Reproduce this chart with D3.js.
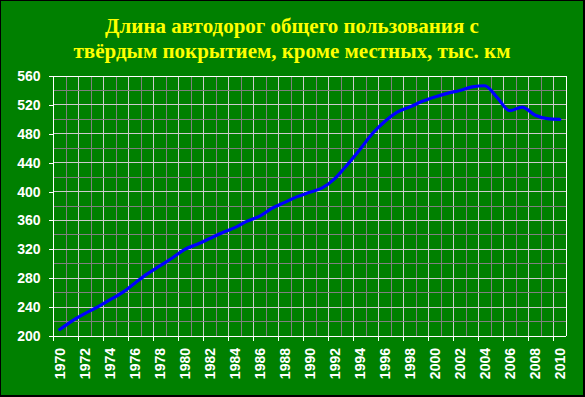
<!DOCTYPE html>
<html><head><meta charset="utf-8">
<script src="https://cdn.jsdelivr.net/npm/d3@7"></script>
<style>
html,body{margin:0;padding:0;background:#000;}
svg{display:block;}
</style></head>
<body>
<script>
const titleLines = ["Длина автодорог общего пользования с", "твёрдым покрытием, кроме местных, тыс. км"];
const years = d3.range(1970, 2011);
const values = [209,221,231,240,250,260,273,286,297,308,
  320,327,335,343,350,359,366,377,385,393,
  399,405,418,437,458,480,497,510,517,525,
  531,536,540,545,546.5,530,512,517,506,501,500];
const yTicks = [200,240,280,320,360,400,440,480,520,560];
const yMinor = [220,260,300,340,380,420,460,500,540];
const xTickLabels = years.filter(y => y % 2 === 0);

const W = 585, H = 397;
const svg = d3.select("body").append("svg").attr("width", W).attr("height", H);
svg.append("rect").attr("x",0).attr("y",0).attr("width",W).attr("height",H).attr("fill","#000");
svg.append("rect").attr("x",1).attr("y",1).attr("width",W-3).attr("height",H-3).attr("fill","#008000");

const L = 53.5, R = 566, T = 76, B = 336;
const x = d3.scaleBand().domain(years).range([L, R]).paddingInner(0).paddingOuter(0);
const y = d3.scaleLinear().domain([200, 560]).range([B, T]);

// title
svg.append("g").selectAll("text").data(titleLines).join("text")
  .attr("x", 292).attr("y", (d,i) => 33 + i*25)
  .attr("text-anchor","middle")
  .attr("fill","#ffff00")
  .style("font-family","'Liberation Serif','Times New Roman',serif")
  .style("font-weight","bold").style("font-size","21px")
  .text(d => d);

const grid = svg.append("g").attr("shape-rendering","crispEdges");
// vertical grid lines at category boundaries
const bounds = years.map(d => x(d)).concat([R]);
grid.selectAll("line.v").data(bounds.slice(1)).join("line")
  .attr("x1", d => d).attr("x2", d => d).attr("y1", T).attr("y2", B)
  .attr("stroke", (d,i) => ((i+1) % 2 === 0 ? "#cccccc" : "#808080")).attr("stroke-width",1);
// horizontal minor
grid.selectAll("line.hm").data(yMinor).join("line")
  .attr("x1", L).attr("x2", R).attr("y1", d => y(d)).attr("y2", d => y(d))
  .attr("stroke","#808080");
// horizontal major
grid.selectAll("line.hM").data(yTicks.slice(1)).join("line")
  .attr("x1", L).attr("x2", R).attr("y1", d => y(d)).attr("y2", d => y(d))
  .attr("stroke","#cccccc");
// border top/right
grid.append("line").attr("x1",L).attr("x2",R).attr("y1",T).attr("y2",T).attr("stroke","#fff");
grid.append("line").attr("x1",R).attr("x2",R).attr("y1",T).attr("y2",B).attr("stroke","#fff");

// y axis
const yAxis = svg.append("g").attr("transform",`translate(${L},0)`)
  .call(d3.axisLeft(y).tickValues(yTicks).tickSize(5).tickPadding(8).tickFormat(d3.format("d")));
yAxis.select(".domain").remove();
yAxis.selectAll(".tick line").attr("stroke","#fff").attr("shape-rendering","crispEdges");
yAxis.selectAll("text").attr("fill","#fff")
  .style("font-family","'Liberation Sans',Arial,sans-serif").style("font-weight","bold").style("font-size","14px");
svg.append("line").attr("x1",L).attr("x2",L).attr("y1",T).attr("y2",B)
  .attr("stroke","#fff").attr("shape-rendering","crispEdges");

// x axis
svg.append("line").attr("x1",L-5).attr("x2",R).attr("y1",B).attr("y2",B)
  .attr("stroke","#fff").attr("shape-rendering","crispEdges");
svg.append("g").selectAll("line").data(xTickLabels).join("line")
  .attr("x1", d => x(d)).attr("x2", d => x(d)).attr("y1", B).attr("y2", B+5)
  .attr("stroke","#fff").attr("shape-rendering","crispEdges");
const xAxis = svg.append("g").attr("transform",`translate(0,${B})`)
  .call(d3.axisBottom(x).tickValues(xTickLabels).tickSize(0));
xAxis.select(".domain").remove();
xAxis.selectAll("text")
  .attr("transform","rotate(-90)").attr("x",-12).attr("y",0).attr("dy","0.35em")
  .attr("text-anchor","end").attr("fill","#fff")
  .style("font-family","'Liberation Sans',Arial,sans-serif").style("font-weight","bold").style("font-size","14px");

// line
const line = d3.line().x((d,i) => x(years[i]) + x.bandwidth()/2).y(d => y(d)).curve(d3.curveMonotoneX);
svg.append("path").datum(values).attr("d", line)
  .attr("fill","none").attr("stroke","#0000ff").attr("stroke-width",3.2)
  .attr("stroke-linejoin","round").attr("stroke-linecap","round");
</script>
</body></html>
